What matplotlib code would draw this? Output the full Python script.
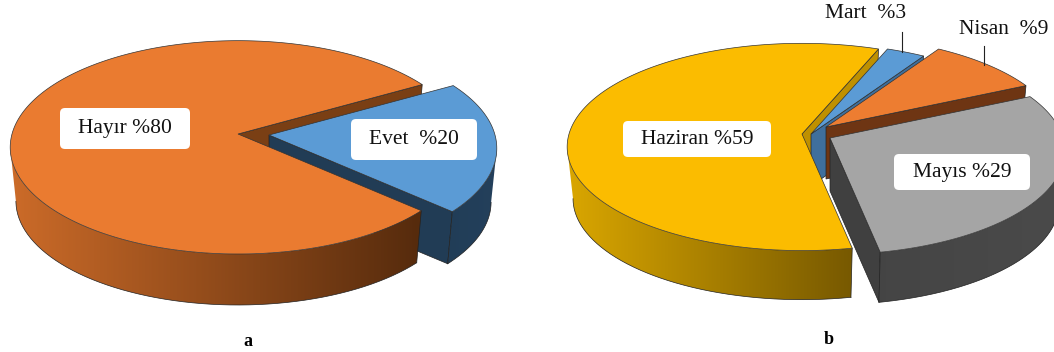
#!/usr/bin/env python3
# 3D exploded pies, drawn by hand since matplotlib has no tilted pie
import numpy as np
import matplotlib.pyplot as plt
from matplotlib.patches import FancyBboxPatch, Polygon

plt.rcParams['font.family'] = ['Liberation Serif', 'DejaVu Serif']

# chart a
a_values = [20, 80]
a_labels = ['Evet  %20', 'Hayır %80']

# chart b
b_values = [3, 9, 29, 59]
b_labels = ['Mart  %3', 'Nisan  %9', 'Mayıs %29', 'Haziran %59']

K = 0.125     # perspective of the tilted disc
FAR = 0.975   # lower rim is a bit smaller than the top one


def rim(t, apex, A, B, depth=0):
    w = 1 + K*np.sin(t)
    s = FAR if depth else 1
    return np.column_stack((apex[0] + s*A*np.cos(t)/w, apex[1] + depth - s*B*np.sin(t)/w))


def slice_angles(values, start):
    edges = np.radians(start - np.cumsum([0] + list(values))*3.6)
    return list(zip(edges[:-1], edges[1:]))


def cut_face(ax, t, style, color):
    apex, A, B, depth = style
    p = rim(np.array([t]), apex, A, B)[0]
    q = rim(np.array([t]), apex, A, B, depth)[0]
    ax.fill([apex[0], p[0], q[0], apex[0]], [apex[1], p[1], q[1], apex[1]+depth],
            color=color, ec='#222222', lw=0.5)


def outer_side(ax, t0, t1, style, xrange, c_left, c_right):
    # t0 > t1, only the part facing the viewer gets drawn
    apex, A, B, depth = style
    t = np.linspace(t0, t1, 400)
    keep = np.sin(t) < -K
    starts_cut = keep[0]
    ends_cut = keep[-1]
    t = t[keep]
    top = rim(t, apex, A, B)
    bot = rim(t, apex, A, B, depth)

    # horizontal gradient over the whole width, clipped to the side outline
    xs = np.arange(0, 1054)
    f = np.clip((xs - xrange[0])/(xrange[1] - xrange[0]), 0, 1)[:, None]
    grad = (np.array(c_left)*(1-f) + np.array(c_right)*f)[None, :, :]
    im = ax.imshow(grad, extent=(0, 1054, 352, 0), aspect='auto', interpolation='bilinear', zorder=1)
    outline = Polygon(np.vstack((top, bot[::-1])), closed=True, fc='none', ec='none', zorder=1)
    ax.add_patch(outline)
    im.set_clip_path(outline)

    ax.plot(bot[:, 0], bot[:, 1], color='#222222', lw=0.5, zorder=1)
    if starts_cut:
        ax.plot([top[0, 0], bot[0, 0]], [top[0, 1], bot[0, 1]], color='#222222', lw=0.5, zorder=1)
    if ends_cut:
        ax.plot([top[-1, 0], bot[-1, 0]], [top[-1, 1], bot[-1, 1]], color='#222222', lw=0.5, zorder=1)
    ax.set_xlim(0, 1054)
    ax.set_ylim(352, 0)


def top_face(ax, t0, t1, style, color):
    apex, A, B, depth = style
    p = rim(np.linspace(t0, t1, 300), apex, A, B)
    ax.fill(np.r_[apex[0], p[:, 0]], np.r_[apex[1], p[:, 1]], color=color, ec='#333333', lw=0.5)


def label_box(ax, text, box):
    x0, x1, y0, y1 = box
    ax.add_patch(FancyBboxPatch((x0+4, y0+4), x1-x0-8, y1-y0-8, boxstyle='round,pad=4,rounding_size=5',
                                fc='white', ec='none', zorder=5))
    ax.text((x0+x1)/2, (y0+y1)/2, text, ha='center', va='center', fontsize=15.5, color='#111111', zorder=6)


fig = plt.figure(figsize=(10.54, 3.52), dpi=100)
ax = fig.add_axes([0, 0, 1, 1])
ax.set_xlim(0, 1054)
ax.set_ylim(352, 0)
ax.axis('off')

# ---- chart a ----
A_, B_ = 226, 105
(ev0, ev1), (ha0, ha1) = slice_angles(a_values, 30)
st_evet = ((269, 135), A_, B_, 54)
st_hayir = ((238, 134), A_, B_, 54)

cut_face(ax, ev0, st_hayir, '#7a3f14')
cut_face(ax, ev1, st_evet, '#213c55')
outer_side(ax, ev0, ev1, st_evet, (440, 500), (0.13, 0.24, 0.34), (0.14, 0.25, 0.36))
top_face(ax, ev0, ev1, st_evet, '#5b9bd5')
outer_side(ax, ha0, ha1, st_hayir, (10, 416), (0.80, 0.42, 0.16), (0.34, 0.17, 0.05))
top_face(ax, ha0, ha1, st_hayir, '#ea7b30')
label_box(ax, a_labels[1], (60, 190, 108, 149))
label_box(ax, a_labels[0], (351, 477, 119, 160))
ax.text(248, 341, 'a', ha='center', va='center', fontsize=13, fontweight='bold')

# ---- chart b ----
A_, B_ = 233, 102
angles = slice_angles(b_values, 68.5)
(ma0, ma1), (ni0, ni1), (my0, my1), (hz0, hz1) = angles
st_mart = ((811, 134), A_, B_, 52)
st_nisan = ((826, 127), A_, B_, 52)
st_mayis = ((830, 138), A_, B_, 53)
st_haz = ((802, 134), A_, B_, 52)

cut_face(ax, ma0, st_haz, '#bf9000')
cut_face(ax, ma1, st_mart, '#3f6f9c')
top_face(ax, ma0, ma1, st_mart, '#5b9bd5')
cut_face(ax, ni1, st_nisan, '#6e3513')
top_face(ax, ni0, ni1, st_nisan, '#ed7d31')
cut_face(ax, my1, st_mayis, '#404040')
outer_side(ax, my0, my1, st_mayis, (880, 1054), (0.27, 0.27, 0.27), (0.29, 0.29, 0.29))
top_face(ax, my0, my1, st_mayis, '#a5a5a5')
outer_side(ax, hz0, hz1, st_haz, (570, 850), (0.85, 0.65, 0.0), (0.47, 0.35, 0.0))
top_face(ax, hz0, hz1, st_haz, '#fbbc00')

label_box(ax, b_labels[3], (623, 771, 121, 157))
label_box(ax, b_labels[2], (894, 1030, 154, 190))
ax.text(866, 13, b_labels[0], ha='center', va='center', fontsize=15.5, color='#111111')
ax.text(1004, 29, b_labels[1], ha='center', va='center', fontsize=15.5, color='#111111')
ax.plot([902, 902], [32, 52], color='#222222', lw=0.8)
ax.plot([984, 984], [46, 65], color='#222222', lw=0.8)
ax.text(829, 339, 'b', ha='center', va='center', fontsize=13, fontweight='bold')

fig.savefig('out.png', dpi=100)
